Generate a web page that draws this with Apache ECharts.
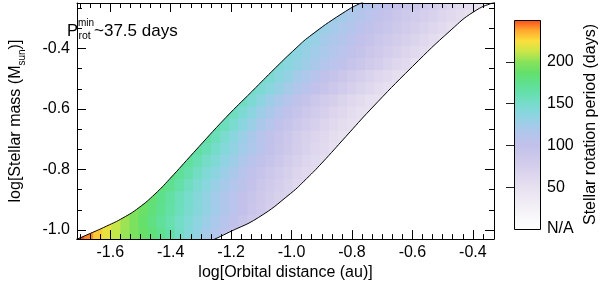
<!DOCTYPE html>
<html><head><meta charset="utf-8">
<script src="https://cdn.jsdelivr.net/npm/echarts@6/dist/echarts.min.js"></script>
<style>html,body{margin:0;padding:0;background:#fff}#c{width:600px;height:286px}</style>
</head><body><div id="c"></div>
<script>
// ---- data ----
const distCenters = [-1.70,-1.67,-1.64,-1.61,-1.58,-1.55,-1.52,-1.49,-1.46,-1.43,-1.40,-1.37,-1.34,-1.31,-1.28,-1.25,-1.22,-1.19,-1.16,-1.13,-1.10,-1.07,-1.04,-1.01,-0.98,-0.95,-0.92,-0.89,-0.86,-0.83,-0.80,-0.77,-0.74,-0.71,-0.68,-0.65,-0.62,-0.59,-0.56,-0.53,-0.50,-0.47,-0.44,-0.41,-0.38,-0.35,-0.32];
const massCenters = [-1.01,-0.97,-0.93,-0.89,-0.85,-0.81,-0.77,-0.73,-0.69,-0.65,-0.61,-0.57,-0.53,-0.49,-0.45,-0.41,-0.37,-0.33,-0.29,-0.25];
const rowFirstCol = [0,2,4,6,8,9,10,11,12,14,15,16,17,19,21,22,23,25,27,29];
const periodRows = [
 [250,242,230,220,211,203,196,189,182,174,165,154,143,133,123,114,106,98,92],
 [225,221,212,204,196,187,179,170,162,153,145,136,128,119,111,102,93,85,80,76],
 [205,200,197,190,182,174,166,157,149,141,133,125,116,108,100,92,84,76,72,68],
 [190,188,185,176,167,158,150,141,133,124,116,108,100,93,85,79,72,68,65,63],
 [184,182,174,165,156,147,139,130,122,114,106,98,90,83,76,69,63,60,58],
 [180,178,172,163,154,145,137,128,120,111,103,95,88,80,73,66,60,57,55],
 [176,175,170,161,152,144,135,127,118,110,102,94,87,79,72,65,59,54,52,51],
 [172,171,168,160,151,142,134,125,117,109,101,93,86,78,71,64,58,52,51,50],
 [169,168,167,158,148,139,129,120,111,103,95,87,79,72,66,60,54,50,49,48],
 [166,165,157,148,138,129,120,112,103,95,87,80,73,66,60,55,51,49,48],
 [162,161,156,146,137,128,120,111,103,95,88,80,73,67,61,56,51,49,48],
 [158,157,155,146,137,128,120,112,104,96,88,81,75,68,62,57,52,50,48],
 [155,154,152,146,139,131,123,116,109,101,94,87,81,74,68,62,56,51,49],
 [151,150,147,139,132,124,117,110,103,96,89,83,76,70,64,58,53,50,49],
 [147,145,139,133,127,120,114,108,102,95,89,83,77,70,64,58,52,50,49],
 [143,142,137,131,125,119,114,108,102,96,90,84,78,72,66,60,55,51,50],
 [139,138,135,130,124,118,113,107,101,96,90,84,79,73,68,62,56,51,50],
 [134,133,129,124,118,113,107,102,96,91,86,80,75,69,64,58,53,51,50],
 [129,128,124,118,113,108,102,97,92,86,81,76,71,65,60,55,50,49,48],
 [125,123,118,113,108,103,97,92,87,81,76,71,65,60,55,49,46,45]
];
const upperDist = [-1.75,-1.71,-1.677,-1.612,-1.558,-1.505,-1.452,-1.404,-1.324,-1.217,-1.132,-1.052,-0.985,-0.94,-0.833,-0.764,-0.70];
const upperMass = [-1.045,-1.03,-1.016,-0.987,-0.960,-0.926,-0.881,-0.832,-0.744,-0.628,-0.543,-0.463,-0.399,-0.360,-0.285,-0.247,-0.221];
const lowerDist = [-1.30,-1.254,-1.206,-1.11,-1.004,-0.95,-0.90,-0.82,-0.737,-0.60,-0.472,-0.397,-0.33,-0.29];
const lowerMass = [-1.05,-1.03,-1.007,-0.959,-0.880,-0.830,-0.779,-0.691,-0.600,-0.460,-0.339,-0.279,-0.248,-0.238];
const xMajorTicks = [-1.6,-1.4,-1.2,-1.0,-0.8,-0.6,-0.4];
const xMinorTicks = [-1.7,-1.6667,-1.6333,-1.5667,-1.5333,-1.5,-1.4667,-1.4333,-1.3667,-1.3333,-1.3,-1.2667,-1.2333,-1.1667,-1.1333,-1.1,-1.0667,-1.0333,-0.9667,-0.9333,-0.9,-0.8667,-0.8333,-0.7667,-0.7333,-0.7,-0.6667,-0.6333,-0.5667,-0.5333,-0.5,-0.4667,-0.4333,-0.3667];
const yMajorTicks = [-1.0,-0.8,-0.6,-0.4];
const yMinorTicks = [-0.9333,-0.8667,-0.7333,-0.6667,-0.5333,-0.4667,-0.3333,-0.2667];
const cbTicks = [50,100,150,200];
const cbLabels = [0,50,100,150,200];
const periodMin = 0, periodMax = 250;
const colormap = ['#ffffff','#faf9fb','#f4f1f7','#eee9f3','#e7e1f0','#dfd8ee','#d6cfec','#ccc8eb','#c3c1eb','#b5c5ec','#a2cce9','#8bd5e0','#77dccc','#66dfae','#5ee08e','#64e06a','#88e25a','#cbe648','#fbdf3c','#ffa82e','#ff4a1c'];

// ---- build ----
const FONT = '"Liberation Sans", Arial, Helvetica, sans-serif';
const X_MIN = -1.71, X_MAX = -0.33, Y_MIN = -1.03, Y_MAX = -0.25;
const cells = [];
periodRows.forEach((row, r) => row.forEach((p, k) => cells.push([distCenters[rowFirstCol[r] + k], massCenters[r], p])));
const halfW = (distCenters[1] - distCenters[0]) / 2;
const halfH = (massCenters[1] - massCenters[0]) / 2;
const upperCurve = upperDist.map((x, i) => [x, upperMass[i]]);
const lowerCurve = lowerDist.map((x, i) => [x, lowerMass[i]]);

function axis(kind, pos, ticks, len, extra) {
  return Object.assign({
    type: 'value', gridIndex: 0, position: pos, z: 10,
    min: kind === 'x' ? X_MIN : Y_MIN, max: kind === 'x' ? X_MAX : Y_MAX,
    axisLine: {show: false, onZero: false},
    axisTick: {show: true, inside: true, length: len, customValues: ticks, lineStyle: {color: '#000', width: 1}},
    axisLabel: {show: false}, splitLine: {show: false}
  }, extra || {});
}
const lineOn = {show: true, onZero: false, lineStyle: {color: '#000', width: 1}};
const labelStyle = {color: '#000', fontSize: 16, fontFamily: FONT};

const option = {
  animation: false,
  backgroundColor: '#fff',
  grid: [
    {left: 63, top: 3, width: 431, height: 245},
    {left: 514, top: 20, width: 27, height: 209}
  ],
  xAxis: [
    axis('x', 'bottom', xMajorTicks, 9, {
      axisLine: lineOn,
      axisLabel: Object.assign({show: true, customValues: xMajorTicks, margin: 5, formatter: v => v.toFixed(1)}, labelStyle),
      name: 'log[Orbital distance (au)]', nameLocation: 'middle', nameGap: 24,
      nameTextStyle: labelStyle
    }),
    axis('x', 'bottom', xMinorTicks, 5),
    axis('x', 'top', xMajorTicks, 9, {axisLine: lineOn}),
    axis('x', 'top', xMinorTicks, 5),
    {type: 'value', gridIndex: 1, min: 0, max: 1, show: false}
  ],
  yAxis: [
    axis('y', 'left', yMajorTicks, 9, {
      axisLine: lineOn,
      axisLabel: Object.assign({show: true, customValues: yMajorTicks, margin: 7, formatter: v => v.toFixed(1)}, labelStyle),
      name: '{m|log[Stellar mass (M}{s|sun}{m|)]}', nameLocation: 'middle', nameGap: 50,
      nameTextStyle: Object.assign({rich: {
        m: {fontSize: 16, lineHeight: 22, verticalAlign: 'middle', fontFamily: FONT, color: '#000'},
        s: {fontSize: 10, lineHeight: 10, verticalAlign: 'bottom', fontFamily: FONT, color: '#000'}
      }}, labelStyle)
    }),
    axis('y', 'left', yMinorTicks, 5),
    axis('y', 'right', yMajorTicks, 9, {axisLine: lineOn}),
    axis('y', 'right', yMinorTicks, 5),
    {type: 'value', gridIndex: 1, position: 'right', min: periodMin, max: periodMax, z: 10,
     axisLine: {show: false},
     axisTick: {show: true, inside: true, length: 8, customValues: cbTicks, lineStyle: {color: '#222', width: 1}},
     axisLabel: Object.assign({show: true, customValues: cbLabels, margin: 7, formatter: v => v === 0 ? 'N/A' : String(v)}, labelStyle),
     splitLine: {show: false},
     name: 'Stellar rotation period (days)', nameLocation: 'middle', nameGap: 43,
     nameTextStyle: labelStyle}
  ],
  visualMap: {
    type: 'continuous', show: false, min: periodMin, max: periodMax, dimension: 2, seriesIndex: 0,
    inRange: {color: colormap}
  },
  graphic: [
    {type: 'text', x: 67, y: 31, z: 20, style: {text: 'P', fontSize: 16.5, fontFamily: FONT, fill: '#000', verticalAlign: 'middle'}},
    {type: 'text', x: 78, y: 23, z: 20, style: {text: 'min', fontSize: 10, fontFamily: FONT, fill: '#000', verticalAlign: 'middle'}},
    {type: 'text', x: 78.5, y: 36, z: 20, style: {text: 'rot', fontSize: 10.5, fontFamily: FONT, fill: '#000', verticalAlign: 'middle'}},
    {type: 'text', x: 94, y: 31, z: 20, style: {text: '~37.5 days', fontSize: 17, fontFamily: FONT, fill: '#000', verticalAlign: 'middle'}}
  ],
  series: [
    {
      type: 'custom', xAxisIndex: 0, yAxisIndex: 0, z: 1, clip: true, silent: true,
      data: cells, encode: {x: 0, y: 1},
      renderItem: function (params, api) {
        const x = api.value(0), y = api.value(1);
        const a = api.coord([x - halfW, y + halfH]);
        const b = api.coord([x + halfW, y - halfH]);
        return {type: 'rect', shape: {x: a[0] - 0.5, y: a[1] - 0.5, width: b[0] - a[0] + 1, height: b[1] - a[1] + 1},
                style: {fill: api.visual('color')}};
      }
    },
    {type: 'line', xAxisIndex: 0, yAxisIndex: 0, data: upperCurve, symbol: 'none', showSymbol: false, smooth: 0.5,
     lineStyle: {color: '#000', width: 1}, areaStyle: {color: '#fff', opacity: 1, origin: 'end'}, z: 3, silent: true},
    {type: 'line', xAxisIndex: 0, yAxisIndex: 0, data: lowerCurve, symbol: 'none', showSymbol: false, smooth: 0.5,
     lineStyle: {color: '#000', width: 1}, areaStyle: {color: '#fff', opacity: 1, origin: 'start'}, z: 3, silent: true},
    {
      type: 'custom', xAxisIndex: 4, yAxisIndex: 4, z: 2, silent: true,
      data: [[0, periodMin, periodMax]],
      renderItem: function (params, api) {
        const a = api.coord([0, api.value(2)]);
        const b = api.coord([1, api.value(1)]);
        const stops = colormap.map((c, i) => ({offset: i / (colormap.length - 1), color: c}));
        return {type: 'rect',
          shape: {x: Math.round(a[0]) + 0.5, y: Math.round(a[1]) + 0.5, width: Math.round(b[0] - a[0]), height: Math.round(b[1] - a[1])},
          style: {fill: new echarts.graphic.LinearGradient(0, 1, 0, 0, stops), stroke: '#000', lineWidth: 1}};
      }
    }
  ]
};
const chart = echarts.init(document.getElementById('c'));
chart.setOption(option);
</script>
</body></html>
